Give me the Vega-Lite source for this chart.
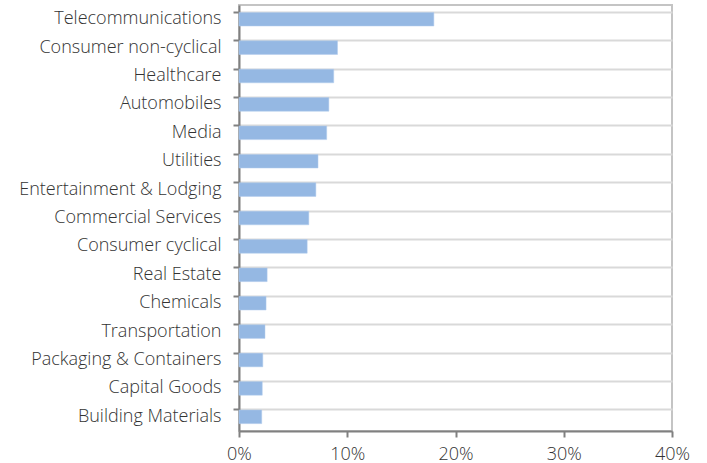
{
  "$schema": "https://vega.github.io/schema/vega-lite/v6.json",
  "autosize": "none",
  "width": 433,
  "height": 426,
  "padding": {"left": 239, "top": 5, "right": 35, "bottom": 32},
  "background": "white",
  "config": {
    "view": {"stroke": "#c4c4c4", "strokeWidth": 2},
    "font": "Open Sans"
  },
  "data": {
    "values": [
      {"sector": "Telecommunications", "share": 18.0},
      {"sector": "Consumer non-cyclical", "share": 9.1},
      {"sector": "Healthcare", "share": 8.75},
      {"sector": "Automobiles", "share": 8.3},
      {"sector": "Media", "share": 8.1},
      {"sector": "Utilities", "share": 7.3},
      {"sector": "Entertainment & Lodging", "share": 7.1},
      {"sector": "Commercial Services", "share": 6.45},
      {"sector": "Consumer cyclical", "share": 6.3},
      {"sector": "Real Estate", "share": 2.6},
      {"sector": "Chemicals", "share": 2.5},
      {"sector": "Transportation", "share": 2.4},
      {"sector": "Packaging & Containers", "share": 2.2},
      {"sector": "Capital Goods", "share": 2.15},
      {"sector": "Building Materials", "share": 2.1}
    ]
  },
  "mark": {"type": "bar", "color": "#95b8e3", "stroke": "#b3cdec", "strokeWidth": 0.5},
  "encoding": {
    "y": {
      "field": "sector",
      "type": "nominal",
      "sort": null,
      "title": null,
      "scale": {"paddingInner": 0.52, "paddingOuter": 0.26},
      "axis": {
        "bandPosition": 0,
        "grid": true,
        "gridColor": "#d9d9d9",
        "gridWidth": 2,
        "domainColor": "#808080",
        "domainWidth": 2,
        "tickColor": "#808080",
        "tickWidth": 2,
        "tickSize": 6,
        "labelPadding": 12,
        "labelLimit": 300,
        "labelFontSize": 18,
        "labelFontWeight": 300,
        "labelColor": "#333333",
        "labelFont": "Open Sans"
      }
    },
    "x": {
      "field": "share",
      "type": "quantitative",
      "title": null,
      "scale": {"domain": [0, 40], "nice": false},
      "axis": {
        "values": [0, 10, 20, 30, 40],
        "labelExpr": "datum.value + '%'",
        "labelFlush": false,
        "grid": false,
        "domainColor": "#808080",
        "domainWidth": 2,
        "tickColor": "#808080",
        "tickWidth": 2,
        "tickSize": 6,
        "labelPadding": 8,
        "labelFontSize": 18,
        "labelFontWeight": 300,
        "labelColor": "#333333",
        "labelFont": "Open Sans"
      }
    }
  }
}
